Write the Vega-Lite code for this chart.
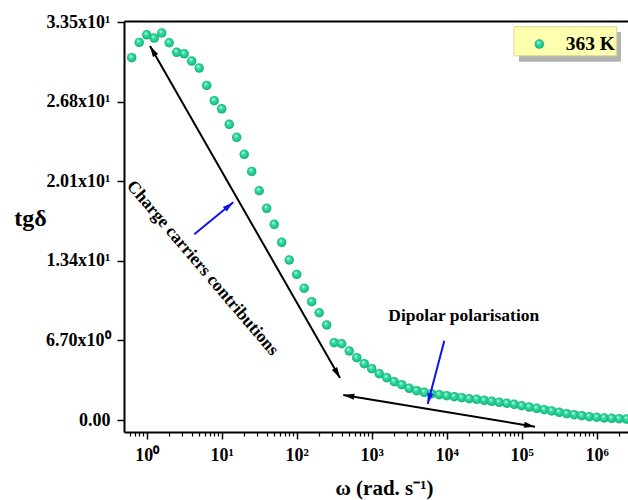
{
  "$schema": "https://vega.github.io/schema/vega-lite/v6.json",
  "width": 504,
  "height": 411,
  "autosize": {"type": "none"},
  "padding": {"left": 124, "top": 21, "right": 0, "bottom": 68},
  "background": "white",
  "config": {
    "view": {"stroke": null},
    "font": "Liberation Serif",
    "axis": {"grid": false, "domainColor": "black", "tickColor": "black", "labelColor": "black", "titleColor": "black", "labelFont": "Liberation Serif", "titleFont": "Liberation Serif", "labelFontWeight": "bold", "titleFontWeight": "bold"}
  },
  "datasets": {
    "pts": [
      {"x": 0.631, "y": 30.50}, {"x": 0.794, "y": 31.79}, {"x": 1, "y": 32.43}, {"x": 1.259, "y": 32.15}, {"x": 1.585, "y": 32.58},
      {"x": 1.995, "y": 31.76}, {"x": 2.512, "y": 30.95}, {"x": 3.162, "y": 30.83}, {"x": 3.981, "y": 30.22}, {"x": 5.012, "y": 29.63},
      {"x": 6.310, "y": 28.17}, {"x": 7.943, "y": 26.88}, {"x": 10, "y": 26.20}, {"x": 12.59, "y": 24.89}, {"x": 15.85, "y": 23.80},
      {"x": 19.95, "y": 22.37}, {"x": 25.12, "y": 20.93}, {"x": 31.62, "y": 19.30}, {"x": 39.81, "y": 17.82}, {"x": 50.12, "y": 16.47},
      {"x": 63.10, "y": 14.96}, {"x": 79.43, "y": 13.47}, {"x": 100, "y": 12.26}, {"x": 125.9, "y": 11.09}, {"x": 158.5, "y": 9.96},
      {"x": 199.5, "y": 9.03}, {"x": 251.2, "y": 8.00}, {"x": 316.2, "y": 6.51}, {"x": 398.1, "y": 6.42}, {"x": 501.2, "y": 5.81},
      {"x": 631.0, "y": 5.25}, {"x": 794.3, "y": 4.74}, {"x": 1000, "y": 4.32}, {"x": 1259, "y": 3.90}, {"x": 1585, "y": 3.56},
      {"x": 1995, "y": 3.22}, {"x": 2512, "y": 2.97}, {"x": 3162, "y": 2.67}, {"x": 3981, "y": 2.47}, {"x": 5012, "y": 2.33},
      {"x": 6310, "y": 2.21}, {"x": 7943, "y": 2.13}, {"x": 10000, "y": 2.05}, {"x": 12589, "y": 1.96}, {"x": 15849, "y": 1.88},
      {"x": 19953, "y": 1.79}, {"x": 25119, "y": 1.74}, {"x": 31623, "y": 1.66}, {"x": 39811, "y": 1.57}, {"x": 50119, "y": 1.49},
      {"x": 63096, "y": 1.41}, {"x": 79433, "y": 1.32}, {"x": 100000, "y": 1.20}, {"x": 125893, "y": 1.09}, {"x": 158489, "y": 0.98},
      {"x": 199526, "y": 0.87}, {"x": 251189, "y": 0.76}, {"x": 316228, "y": 0.65}, {"x": 398107, "y": 0.53}, {"x": 501187, "y": 0.45},
      {"x": 630957, "y": 0.36}, {"x": 794328, "y": 0.28}, {"x": 1000000, "y": 0.23}, {"x": 1258925, "y": 0.17}, {"x": 1584893, "y": 0.14},
      {"x": 1995262, "y": 0.11}, {"x": 2511886, "y": 0.08}
    ],
    "segs": [
      {"x": 1.107, "y": 31.48, "x2": 377.6, "y2": 3.54, "c": "black"},
      {"x": 418, "y": 2.10, "x2": 150400, "y2": -0.56, "c": "black"},
      {"x": 4.31, "y": 15.63, "x2": 14.28, "y2": 18.33, "c": "#1010ee"},
      {"x": 9290, "y": 6.68, "x2": 5580, "y2": 1.35, "c": "#1010ee"}
    ],
    "heads": [
      {"x": 1.107, "y": 31.48, "a": -29.8, "c": "black"},
      {"x": 377.6, "y": 3.54, "a": 150.2, "c": "black"},
      {"x": 418, "y": 2.10, "a": 279.4, "c": "black"},
      {"x": 150400, "y": -0.56, "a": 99.4, "c": "black"},
      {"x": 14.28, "y": 18.33, "a": 50.6, "c": "#1010ee"},
      {"x": 5580, "y": 1.35, "a": 194.7, "c": "#1010ee"}
    ],
    "texts": [
      {"x": 5.546, "y": 12.79, "t": "Charge carriers contributions", "a": 49.5},
      {"x": 16904, "y": 8.78, "t": "Dipolar polarisation", "a": 0}
    ],
    "shadow": [{"x": 92000, "x2": 2109000, "y": 32.66, "y2": 30.16}],
    "box": [{"x": 78900, "x2": 1849000, "y": 33.11, "y2": 30.66}],
    "ldot": [{"x": 171700, "y": 31.65}],
    "ltext": [{"x": 1754000, "y": 31.65, "t": "363 K"}]
  },
  "resolve": {"axis": {"x": "independent"}},
  "layer": [
    {
      "data": {"name": "pts"},
      "mark": {"type": "point", "filled": true, "size": 90, "opacity": 1, "strokeWidth": 0,
        "fill": {"gradient": "radial", "x1": 0.38, "y1": 0.32, "r1": 0, "x2": 0.5, "y2": 0.5, "r2": 0.55,
          "stops": [{"offset": 0, "color": "#ffffff"}, {"offset": 0.3, "color": "#3fe0a6"}, {"offset": 0.75, "color": "#19c486"}, {"offset": 1, "color": "#0f9e6a"}]}},
      "encoding": {
        "x": {"field": "x", "type": "quantitative",
          "scale": {"type": "log", "domain": [0.498, 2614000], "nice": false},
          "axis": {"orient": "bottom", "values": [1, 10, 100, 1000, 10000, 100000, 1000000],
            "labelExpr": "'10' + ['⁰','¹','²','³','⁴','⁵','⁶'][round(log(datum.value)/LN10)]",
            "tickSize": 7, "tickWidth": 1.5, "domainWidth": 2, "labelFontSize": 18, "labelPadding": 7,
            "title": "ω (rad. s⁻¹)", "titleFontSize": 21, "titleX": 260, "titleY": 56, "titleBaseline": "middle", "titleAlign": "center"}},
        "y": {"field": "y", "type": "quantitative",
          "scale": {"domain": [-1.01, 33.59], "nice": false, "zero": false},
          "axis": {"values": [0, 6.7, 13.4, 20.1, 26.8, 33.5],
            "labelExpr": "datum.value == 0 ? '0.00' : (datum.value < 10 ? format(datum.value, '.2f') + 'x10⁰' : format(datum.value / 10, '.2f') + 'x10¹')",
            "tickSize": 7, "tickWidth": 1.5, "domainWidth": 2, "labelFontSize": 18, "labelPadding": 7,
            "title": "tgδ", "titleAngle": 0, "titleFontSize": 24, "titleX": -94, "titleY": 197, "titleAlign": "center", "titleBaseline": "middle"}}
      }
    },
    {
      "data": {"name": "shadow"},
      "mark": {"type": "rect", "fill": "#b3b3b3"},
      "encoding": {
        "x": {"field": "x", "type": "quantitative",
          "axis": {"orient": "bottom", "values": [0.6, 0.7, 0.8, 0.9, 2, 3, 4, 5, 6, 7, 8, 9, 20, 30, 40, 50, 60, 70, 80, 90, 200, 300, 400, 500, 600, 700, 800, 900, 2000, 3000, 4000, 5000, 6000, 7000, 8000, 9000, 20000, 30000, 40000, 50000, 60000, 70000, 80000, 90000, 200000, 300000, 400000, 500000, 600000, 700000, 800000, 900000, 2000000],
            "labels": false, "domain": false, "tickSize": 4, "tickWidth": 1.2, "title": null}},
        "x2": {"field": "x2"},
        "y": {"field": "y", "type": "quantitative"},
        "y2": {"field": "y2"}
      }
    },
    {
      "data": {"name": "box"},
      "mark": {"type": "rect", "fill": "#ffffb0", "stroke": "#d8d890", "strokeWidth": 1},
      "encoding": {
        "x": {"field": "x", "type": "quantitative",
          "axis": {"orient": "top", "labels": false, "ticks": false, "domain": true, "domainWidth": 2, "title": null}},
        "x2": {"field": "x2"},
        "y": {"field": "y", "type": "quantitative"},
        "y2": {"field": "y2"}
      }
    },
    {
      "data": {"name": "segs"},
      "mark": {"type": "rule", "strokeWidth": 2, "strokeCap": "butt"},
      "encoding": {
        "x": {"field": "x", "type": "quantitative", "axis": null},
        "x2": {"field": "x2"},
        "y": {"field": "y", "type": "quantitative"},
        "y2": {"field": "y2"},
        "color": {"field": "c", "type": "nominal", "scale": null}
      }
    },
    {
      "data": {"name": "heads"},
      "mark": {"type": "point", "filled": true, "opacity": 1, "size": 121, "strokeWidth": 0, "shape": "M0,0L0.55,2L-0.55,2Z"},
      "encoding": {
        "x": {"field": "x", "type": "quantitative", "axis": null},
        "y": {"field": "y", "type": "quantitative"},
        "angle": {"field": "a", "type": "quantitative", "scale": null},
        "color": {"field": "c", "type": "nominal", "scale": null}
      }
    },
    {
      "data": {"name": "texts"},
      "mark": {"type": "text", "font": "Liberation Serif", "fontWeight": "bold", "fontSize": 17.5, "align": "center", "baseline": "middle", "color": "black"},
      "encoding": {
        "x": {"field": "x", "type": "quantitative", "axis": null},
        "y": {"field": "y", "type": "quantitative"},
        "text": {"field": "t"},
        "angle": {"field": "a", "type": "quantitative", "scale": null}
      }
    },
    {
      "data": {"name": "ldot"},
      "mark": {"type": "point", "filled": true, "size": 90, "opacity": 1, "strokeWidth": 0,
        "fill": {"gradient": "radial", "x1": 0.38, "y1": 0.32, "r1": 0, "x2": 0.5, "y2": 0.5, "r2": 0.55,
          "stops": [{"offset": 0, "color": "#ffffff"}, {"offset": 0.3, "color": "#3fe0a6"}, {"offset": 0.75, "color": "#19c486"}, {"offset": 1, "color": "#0f9e6a"}]}},
      "encoding": {
        "x": {"field": "x", "type": "quantitative", "axis": null},
        "y": {"field": "y", "type": "quantitative"}
      }
    },
    {
      "data": {"name": "ltext"},
      "mark": {"type": "text", "font": "Liberation Serif", "fontWeight": "bold", "fontSize": 19.5, "align": "right", "baseline": "middle", "color": "black"},
      "encoding": {
        "x": {"field": "x", "type": "quantitative", "axis": null},
        "y": {"field": "y", "type": "quantitative"},
        "text": {"field": "t"}
      }
    }
  ]
}
